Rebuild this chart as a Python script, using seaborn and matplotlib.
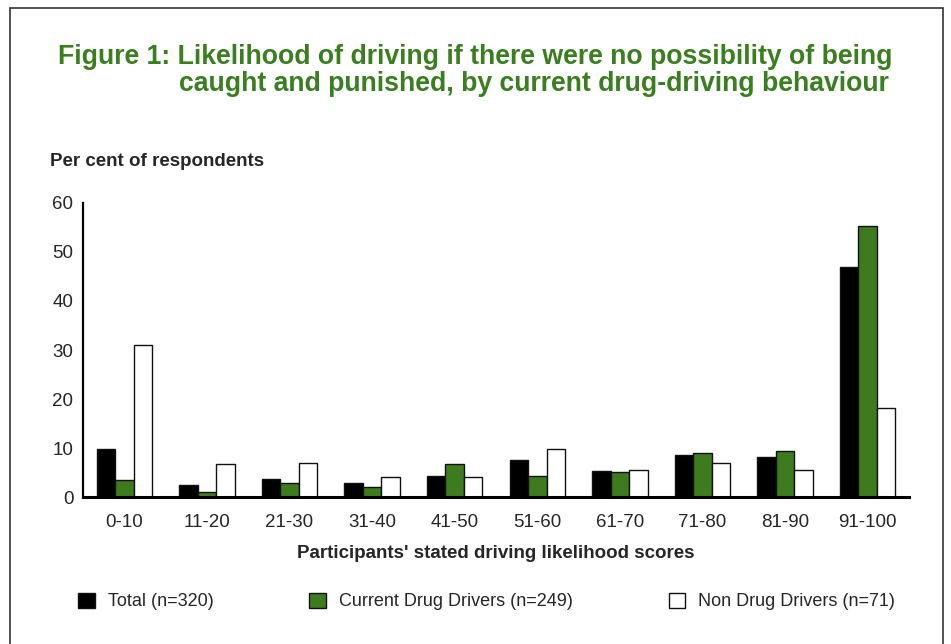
import matplotlib
matplotlib.use("Agg")
import matplotlib.pyplot as plt
from matplotlib.patches import Rectangle
import seaborn as sns
import pandas as pd

categories = ["0-10", "11-20", "21-30", "31-40", "41-50", "51-60",
              "61-70", "71-80", "81-90", "91-100"]
total = [9.8, 2.5, 3.7, 2.9, 4.3, 7.6, 5.3, 8.7, 8.3, 47.0]
current = [3.5, 1.2, 2.9, 2.2, 6.9, 4.3, 5.1, 9.0, 9.4, 55.3]
non = [31.0, 6.9, 7.1, 4.1, 4.1, 9.8, 5.5, 7.1, 5.5, 18.3]
series = ["Total (n=320)", "Current Drug Drivers (n=249)", "Non Drug Drivers (n=71)"]
y_ticks = [0, 10, 20, 30, 40, 50, 60]

rows = []
for s, vals in zip(series, [total, current, non]):
    for c, v in zip(categories, vals):
        rows.append({"cat": c, "series": s, "value": v})
df = pd.DataFrame(rows)

sns.set_theme(style="white")
plt.rcParams['font.family'] = ['Liberation Sans', 'DejaVu Sans']

GREEN = "#3E7A1E"
TITLE_GREEN = "#3A7F1F"
palette = {series[0]: "#000000", series[1]: GREEN, series[2]: "#FFFFFF"}

fig = plt.figure(figsize=(9.51, 6.44), dpi=100)
ax = fig.add_axes([0.0873, 0.2275, 0.9558 - 0.0873, 0.6853 - 0.2275])

sns.barplot(data=df, x="cat", y="value", hue="series", order=categories,
            hue_order=series, palette=palette, width=0.67, gap=0,
            edgecolor="#111111", linewidth=1.0, saturation=1, ax=ax)

ax.set_ylim(0, 60)
ax.set_xlim(-0.5, 9.5)
ax.set_yticks(y_ticks)
ax.set_yticklabels([str(t) for t in y_ticks], fontsize=13.5)
ax.tick_params(axis="y", direction="in", length=4, width=1, color="black", pad=7)
ax.tick_params(axis="x", length=0, labelsize=13.5, pad=12)
for sp in ["top", "right"]:
    ax.spines[sp].set_visible(False)
ax.spines["left"].set_linewidth(1.6)
ax.spines["left"].set_color("black")
ax.spines["bottom"].set_linewidth(2.2)
ax.spines["bottom"].set_color("black")
ax.set_ylabel("")
ax.set_xlabel("Participants' stated driving likelihood scores", fontsize=13.5,
              fontweight="bold", labelpad=10)

leg = ax.get_legend()
handles = leg.legend_handles
leg.remove()
fig.legend(handles, series, loc="center left", bbox_to_anchor=(0.0745, 0.066),
           ncol=3, frameon=False, fontsize=13, handlelength=0.93, handleheight=0.93,
           handletextpad=0.72, columnspacing=5.3, borderaxespad=0)

fig.text(0.053, 0.75, "Per cent of respondents", fontsize=13.5, fontweight="bold",
         ha="left", va="center")

fig.text(0.938, 0.912, "Figure 1: Likelihood of driving if there were no possibility of being",
         fontsize=19.2, fontweight="bold", color=TITLE_GREEN, ha="right", va="center")
fig.text(0.935, 0.869, "caught and punished, by current drug-driving behaviour",
         fontsize=19.2, fontweight="bold", color=TITLE_GREEN, ha="right", va="center")

fig.patches.append(Rectangle((10 / 951, -0.05), (943 - 10) / 951, 1 - 8 / 644 + 0.05,
                             transform=fig.transFigure, fill=False,
                             edgecolor="#333333", linewidth=1.2, clip_on=False))

fig.savefig("out.png", dpi=100)
